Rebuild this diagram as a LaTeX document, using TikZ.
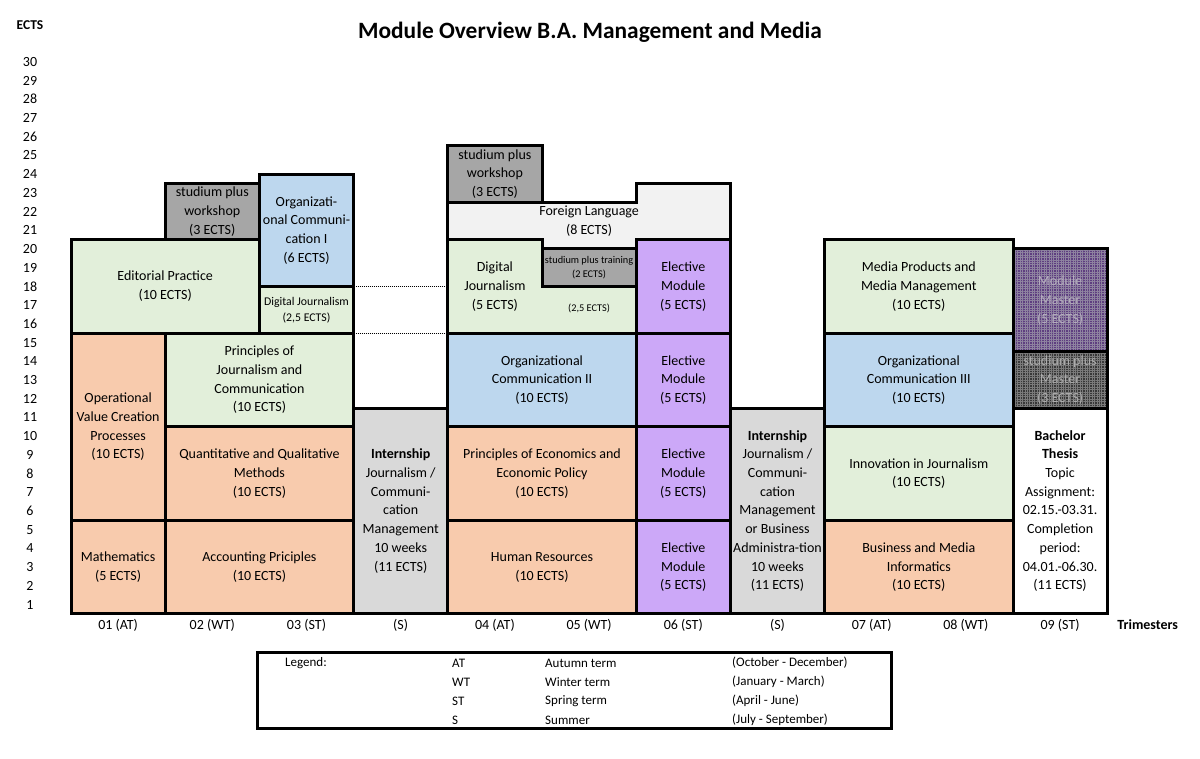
\documentclass[tikz,border=0pt]{standalone}
\usepackage{fontspec}
\setmainfont{Carlito}
\usetikzlibrary{patterns.meta}
\definecolor{cOrange}{HTML}{F8CBAD}
\definecolor{cGreen}{HTML}{E2EFDA}
\definecolor{cBlue}{HTML}{BDD7EE}
\definecolor{cPurple}{HTML}{CCA8F8}
\definecolor{cIntern}{HTML}{D9D9D9}
\definecolor{cWork}{HTML}{A6A6A6}
\definecolor{cLang}{HTML}{F2F2F2}
\definecolor{cMaster}{HTML}{5E3E80}
\definecolor{cMasterGrid}{HTML}{8E82A0}
\definecolor{cSPM}{HTML}{383838}
\definecolor{cSPMGrid}{HTML}{7A7A7A}
\definecolor{cMasterTxt}{HTML}{B4ACBE}
\definecolor{cSPMTxt}{HTML}{ACACAC}
\begin{document}
\begin{tikzpicture}[x=94.2pt,y=18.72pt,
  box/.style={draw=black,line width=3pt},
  txt/.style={align=center,inner sep=0pt,font=\fontsize{14}{18.72}\selectfont},
  smalltxt/.style={align=center,inner sep=0pt,font=\fontsize{11.8}{16}\selectfont},
  tinytxt/.style={align=center,inner sep=0pt,font=\fontsize{10.3}{14}\selectfont},
  axis/.style={inner sep=0pt,font=\fontsize{14}{16}\selectfont},
  legtxt/.style={inner sep=0pt,anchor=west,font=\fontsize{13}{15}\selectfont},
  gridh/.style={pattern={Lines[angle=0,distance=2.4pt,line width=0.4pt]}},
  gridv/.style={pattern={Lines[angle=90,distance=2.4pt,line width=0.4pt]}},
  dotline/.style={line width=1pt,dash pattern=on 1pt off 1pt}]
\useasboundingbox[fill=white] (-0.75372,-7.74573) rectangle (11.98514,32.79915);

% title and axis labels
\node[inner sep=0pt,font=\fontsize{23.4}{26}\bfseries\selectfont] (title) at (5.51,31.05) {Module Overview B.A. Management and Media};
\node[axis,font=\fontsize{13.5}{16}\bfseries\selectfont] (ectslab) at (-0.435,31.46) {ECTS};
\foreach \k in {1,...,30}{
  \node[axis] (e\k) at (-0.435,\k-0.5) {\k};
}
\foreach \i/\t in {0/01 (AT),1/02 (WT),2/03 (ST),3/(S),4/04 (AT),5/05 (WT),6/06 (ST),7/(S),8/07 (AT),9/08 (WT),10/09 (ST)}{
  \node[axis] (t\i) at (\i+0.5,-0.59) {\t};
}
\node[axis,font=\fontsize{14}{16}\bfseries\selectfont] (trim) at (11.43,-0.59) {Trimesters};

% ---- column 01
\draw[box,fill=cOrange] (0,0) rectangle (1,5);
\node[txt] (math) at (0.5,2.5) {Mathematics\\(5 ECTS)};
\draw[box,fill=cOrange] (0,5) rectangle (1,15);
\node[txt] (ovc) at (0.5,10) {Operational\\Value Creation\\Processes\\(10 ECTS)};
\draw[box,fill=cGreen] (0,15) rectangle (2,20);
\node[txt] (edit) at (1,17.5) {Editorial Practice\\(10 ECTS)};

% ---- columns 02-03
\draw[box,fill=cOrange] (1,0) rectangle (3,5);
\node[txt] (acc) at (2,2.5) {Accounting Priciples\\(10 ECTS)};
\draw[box,fill=cOrange] (1,5) rectangle (3,10);
\node[txt] (qqm) at (2,7.5) {Quantitative and Qualitative\\Methods\\(10 ECTS)};
\draw[box,fill=cGreen] (1,10) rectangle (3,15);
\node[txt] (pjc) at (2,12.5) {Principles of\\Journalism and\\Communication\\(10 ECTS)};
\draw[box,fill=cGreen] (2,15) rectangle (3,17.5);
\node[smalltxt] (dj1) at (2.5,16.25) {Digital Journalism\\(2,5 ECTS)};
\draw[box,fill=cBlue] (2,17.5) rectangle (3,23.5);
\node[txt] (oc1) at (2.5,20.5) {Organizati-\\onal Communi-\\cation I\\(6 ECTS)};
\draw[box,fill=cWork] (1,20) rectangle (2,23);
\node[txt] (spw1) at (1.5,21.5) {studium plus\\workshop\\(3 ECTS)};

% ---- summer 1
\draw[box,fill=cIntern] (3,0) rectangle (4,11);
\node[txt] (int1) at (3.5,5.5) {\textbf{Internship}\\Journalism /\\Communi-\\cation\\Management\\10 weeks\\(11 ECTS)};

% ---- columns 04-05
\draw[box,fill=cOrange] (4,0) rectangle (6,5);
\node[txt] (hr) at (5,2.5) {Human Resources\\(10 ECTS)};
\draw[box,fill=cOrange] (4,5) rectangle (6,10);
\node[txt] (pee) at (5,7.5) {Principles of Economics and\\Economic Policy\\(10 ECTS)};
\draw[box,fill=cBlue] (4,10) rectangle (6,15);
\node[txt] (oc2) at (5,12.5) {Organizational\\Communication II\\(10 ECTS)};
\draw[box,fill=cGreen] (4,15) -- (6,15) -- (6,17.5) -- (5,17.5) -- (5,20) -- (4,20) -- cycle;
\node[txt] (dj2) at (4.5,17.5) {Digital\\Journalism\\(5 ECTS)};
\node[tinytxt] (dj2b) at (5.5,16.3) {(2,5 ECTS)};
\draw[box,fill=cWork] (5,17.5) rectangle (6,19.5);
\node[tinytxt] (spt) at (5.5,18.5) {studium plus training\\(2 ECTS)};
\draw[box,fill=cLang] (4,20) -- (5,20) -- (5,19.5) -- (6,19.5) -- (6,20) -- (7,20) -- (7,23) -- (6,23) -- (6,22) -- (4,22) -- cycle;
\node[txt] (fl) at (5.5,21) {Foreign Language\\(8 ECTS)};
\draw[box,fill=cWork] (4,22) rectangle (5,25);
\node[txt] (spw2) at (4.5,23.5) {studium plus\\workshop\\(3 ECTS)};

% ---- column 06
\foreach \b/\n in {0/em1,5/em2,10/em3,15/em4}{
  \draw[box,fill=cPurple] (6,\b) rectangle (7,\b+5);
  \node[txt] (\n) at (6.5,\b+2.5) {Elective\\Module\\(5 ECTS)};
}

% ---- summer 2
\draw[box,fill=cIntern] (7,0) rectangle (8,11);
\node[txt] (int2) at (7.5,5.5) {\textbf{Internship}\\Journalism /\\Communi-\\cation\\Management\\or Business\\Administra-tion\\10 weeks\\(11 ECTS)};

% ---- columns 07-08
\draw[box,fill=cOrange] (8,0) rectangle (10,5);
\node[txt] (bmi) at (9,2.5) {Business and Media\\Informatics\\(10 ECTS)};
\draw[box,fill=cGreen] (8,5) rectangle (10,10);
\node[txt] (inno) at (9,7.5) {Innovation in Journalism\\(10 ECTS)};
\draw[box,fill=cBlue] (8,10) rectangle (10,15);
\node[txt] (oc3) at (9,12.5) {Organizational\\Communication III\\(10 ECTS)};
\draw[box,fill=cGreen] (8,15) rectangle (10,20);
\node[txt] (mpm) at (9,17.5) {Media Products and\\Media Management\\(10 ECTS)};

% ---- column 09
\draw[box,fill=white] (10,0) rectangle (11,11);
\node[txt] (bt) at (10.5,5.5) {\textbf{Bachelor}\\\textbf{Thesis}\\Topic\\Assignment:\\02.15.-03.31.\\Completion\\period:\\04.01.-06.30.\\(11 ECTS)};
\fill[cSPM] (10,11) rectangle (11,14);
\path[gridh,pattern color=cSPMGrid] (10,11) rectangle (11,14);
\path[gridv,pattern color=cSPMGrid] (10,11) rectangle (11,14);
\draw[box] (10,11) rectangle (11,14);
\node[txt,text=cSPMTxt] (spm) at (10.5,12.5) {studium plus\\Master\\(3 ECTS)};
\fill[cMaster] (10,14) rectangle (11,19.5);
\path[gridh,pattern color=cMasterGrid] (10,14) rectangle (11,19.5);
\path[gridv,pattern color=cMasterGrid] (10,14) rectangle (11,19.5);
\draw[box] (10,14) rectangle (11,19.5);
\node[txt,text=cMasterTxt] (mm) at (10.5,16.75) {Module\\Master\\(5 ECTS)};

% ---- dotted connectors between the Digital Journalism parts
\coordinate (djTopL) at (3,17.5);
\coordinate (djTopR) at (4,17.5);
\coordinate (djBotL) at (3,15);
\coordinate (djBotR) at (4,15);
\draw[dotline] (djTopL) -- (djTopR);
\draw[dotline] (djBotL) -- (djBotR);

% ---- legend
\draw[box] (1.975,-2.083) rectangle (8.705,-6.143);
\node[legtxt] (lg) at (2.272,-2.62) {Legend:};
\foreach \r/\a/\b/\c in {0/AT/Autumn term/(October - December),1/WT/Winter term/(January - March),2/ST/Spring term/(April - June),3/S/Summer/(July - September)}{
  \node[legtxt] (la\r) at (4.045,-2.62-1.015*\r) {\a};
  \node[legtxt] (lb\r) at (5.032,-2.62-1.015*\r) {\b};
  \node[legtxt] (lc\r) at (7.017,-2.62-1.015*\r) {\c};
}
\end{tikzpicture}
\end{document}
